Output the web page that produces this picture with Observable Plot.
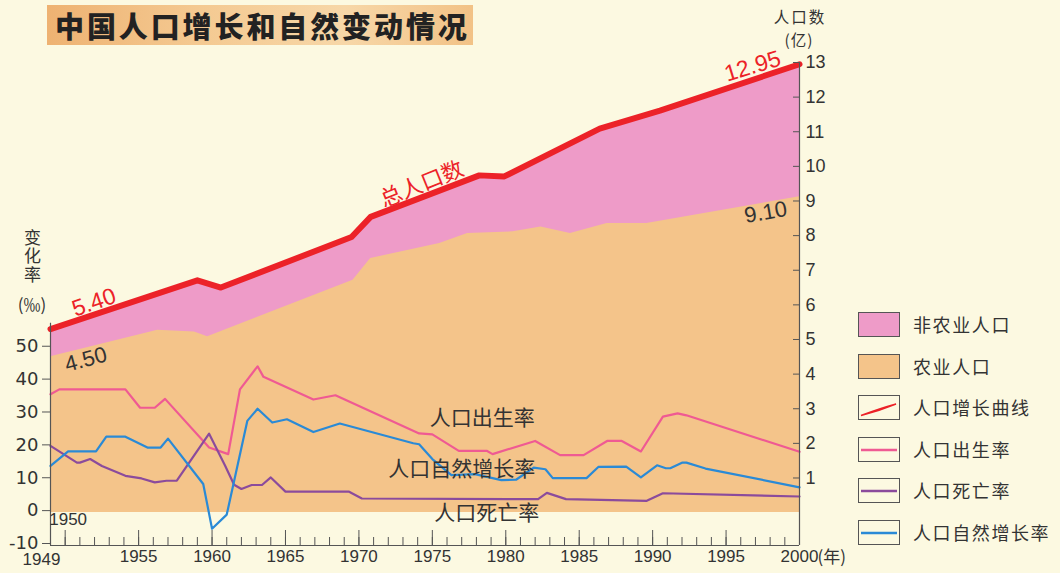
<!DOCTYPE html>
<html lang="zh">
<head>
<meta charset="utf-8">
<script src="https://cdn.jsdelivr.net/npm/d3@7"></script>
<script src="https://cdn.jsdelivr.net/npm/@observablehq/plot@0.6"></script>
<style>
html,body{margin:0;padding:0;background:#fcf9e1;}
#wrap{position:relative;width:1060px;height:573px;overflow:hidden;background:#fcf9e1;font-family:"Noto Sans CJK SC",sans-serif;color:#333;}
#chart{position:absolute;left:0;top:0;}
#title{position:absolute;left:47px;top:5px;width:426px;height:40px;box-sizing:border-box;padding-left:8px;
  background:linear-gradient(90deg,#eeb272 0%,#f4c991 35%,#f7d7a8 70%,#f2c286 100%);
  font-weight:900;font-size:29px;line-height:40px;letter-spacing:2.9px;color:#222;white-space:nowrap;}
.axt{position:absolute;font-size:17px;line-height:18px;color:#333;white-space:nowrap;text-align:center;}
.axr{position:absolute;font-size:15.5px;line-height:16px;color:#333;white-space:nowrap;text-align:center;}
#vt{position:absolute;left:22px;top:229px;writing-mode:vertical-rl;font-size:17px;letter-spacing:1.5px;line-height:20px;color:#333;}
.leg{position:absolute;left:858px;width:42px;height:25px;box-sizing:border-box;border:1px solid #555;}
.legt{position:absolute;left:913px;font-size:18px;line-height:25px;letter-spacing:1.6px;color:#333;white-space:nowrap;}
svg g[aria-label="rate-labels"] text{letter-spacing:2.4px;}
svg g[aria-label="num-labels"] text{letter-spacing:3px;}
svg g[aria-label="total-label"] text{letter-spacing:4px;}
</style>
</head>
<body>
<div id="wrap">
  <div id="chart"></div>
  <div id="title">中国人口增长和自然变动情况</div>
  <div id="vt">变化率</div>
  <div class="axt" style="left:12px;top:295px;width:40px;">(‰)</div>
  <div class="axr" style="left:770px;top:8px;width:60px;letter-spacing:2px;">人口数</div>
  <div class="axr" style="left:779px;top:31px;width:40px;letter-spacing:1px;">(亿)</div>
  <div id="legend"></div>
</div>
<script>
// ---------- data ----------
// total population (亿) : [year, value]
const totalPop = [[1949,5.30],[1959.0,6.71],[1960.6,6.50],[1969.5,7.96],[1970.8,8.54],[1972.1,8.75],
  [1978.2,9.74],[1979.9,9.71],[1986.4,11.09],[1990.5,11.61],[2000,12.95]];
// agricultural population (亿)
const agriPop = [[1949,4.50],[1951.7,4.78],[1956.3,5.27],[1958.8,5.22],[1959.7,5.08],[1969.6,6.71],
  [1970.8,7.34],[1975.5,7.77],[1977.4,8.06],[1980.5,8.11],[1982.4,8.25],[1984.4,8.06],[1986.9,8.35],
  [1989.6,8.35],[2000,9.12]];
// birth rate (‰)
const birthRate = [[1949,36.0],[1949.6,37.5],[1954.1,37.5],[1955.1,31.9],[1956.1,31.9],[1956.8,34.6],
  [1959.8,19.8],[1961.1,17.8],[1961.9,37.5],[1963.1,44.5],[1963.5,41.3],[1966.9,34.4],[1968.4,35.7],
  [1974.1,24.1],[1975.0,23.8],[1976.8,18.8],[1978.7,18.8],[1979.1,17.8],[1982.0,21.8],[1983.7,17.5],
  [1985.3,17.5],[1986.9,21.8],[1987.9,21.8],[1989.2,18.6],[1990.7,29.2],[1991.7,30.2],[1992.3,29.6],
  [2000,18.5]];
// death rate (‰)
const deathRate = [[1949,20.3],[1950.8,15.2],[1951.0,15.2],[1951.7,16.3],[1952.5,14.2],[1954.1,11.2],
  [1955.2,10.4],[1956.1,9.2],[1956.9,9.7],[1957.6,9.7],[1959.8,24.0],[1960.9,14.2],[1961.5,8.5],
  [1962.0,7.2],[1962.7,8.4],[1963.4,8.4],[1964.0,10.7],[1965.0,6.4],[1969.3,6.4],[1970.2,4.3],
  [1982.2,4.1],[1982.8,6.0],[1984.1,4.1],[1989.6,3.6],[1990.7,5.9],[2000,4.9]];
// natural growth rate (‰)
const growthRate = [[1949,14.2],[1950.2,18.6],[1952.1,18.6],[1952.8,23.1],[1954.1,23.1],[1955.6,19.8],
  [1956.5,19.8],[1957.0,22.5],[1959.4,8.7],[1960.0,-4.9],[1961.0,-0.6],[1962.4,27.9],[1963.1,31.6],
  [1964.1,27.4],[1965.1,28.4],[1966.9,24.5],[1968.7,27.1],[1973.7,21.1],[1974.1,20.8],[1975.0,16.3],
  [1976.3,11.4],[1977.9,11.7],[1979.7,9.9],[1980.7,10.0],[1981.9,13.7],[1982.7,13.2],[1983.2,10.5],
  [1985.5,10.5],[1986.3,13.9],[1988.2,14.0],[1989.2,10.7],[1990.3,14.4],[1990.9,13.5],[1991.2,13.5],
  [1992.0,15.2],[1992.3,15.2],[1993.6,13.4],[2000,7.7]];

// tick values
const rateTicks = [-10, 0, 10, 20, 30, 40, 50];
const popTicks = [1,2,3,4,5,6,7,8,9,10,11,12,13];
const xLabelYears = [1955,1960,1965,1970,1975,1980,1985,1990,1995,2000];
const xMajorYears = [1950,1955,1960,1965,1970,1975,1980,1985,1990,1995];
const xMinorYears = d3.range(1950, 2000);

// legend entries
const legendItems = [
  {name:"非农业人口", kind:"box", color:"#ee9bc8"},
  {name:"农业人口", kind:"box", color:"#f4c48a"},
  {name:"人口增长曲线", kind:"stroke", color:"#ec2228"},
  {name:"人口出生率", kind:"line", color:"#ef5a93"},
  {name:"人口死亡率", kind:"line", color:"#8b4b9c"},
  {name:"人口自然增长率", kind:"line", color:"#2a8ad6"}
];

// ---------- layout ----------
const rateToPop = 3.29 / 34.65;       // 1‰ on the left axis expressed in 亿 of the right axis
const yMin = -10 * rateToPop;
const leftAxisTop = 57.6;              // ‰, top of the left axis line

const numLabelsRed = [
  {t:"5.40", x:1951.96, y:6.07, r:-19},
  {t:"12.95", x:1996.8, y:12.89, r:-17}
];
const numLabelsDark = [
  {t:"4.50", x:1951.4, y:4.42, r:-15},
  {t:"9.10", x:1997.7, y:8.67, r:-10}
];
const rateLabels = [
  {t:"人口出生率", x:1978.4, r:28.6},
  {t:"人口自然增长率", x:1977.0, r:13.2},
  {t:"人口死亡率", x:1978.7, r:-0.3}
];

const X = d => d[0];
const chart = Plot.plot({
  width: 1060, height: 573,
  marginLeft: 50, marginRight: 261, marginTop: 62, marginBottom: 28,
  x: {domain: [1949, 2000], axis: null},
  y: {domain: [yMin, 13], axis: null},
  style: {background: "transparent", fontFamily: "'Liberation Sans', Arial, sans-serif", fontSize: "17px", color: "#333", overflow: "visible"},
  marks: [
    Plot.areaY(totalPop, {x: X, y1: 0, y2: d => d[1], fill: "#ee9bc8"}),
    Plot.areaY(agriPop, {x: X, y1: 0, y2: d => d[1], fill: "#f4c48a"}),
    Plot.line(birthRate, {x: X, y: d => d[1] * rateToPop, stroke: "#ef5a93", strokeWidth: 2.2}),
    Plot.line(deathRate, {x: X, y: d => d[1] * rateToPop, stroke: "#8b4b9c", strokeWidth: 2.2}),
    Plot.line(growthRate, {x: X, y: d => d[1] * rateToPop, stroke: "#2a8ad6", strokeWidth: 2.2}),
    Plot.line(totalPop, {x: X, y: d => d[1], stroke: "#ec2228", strokeWidth: 6, strokeLinejoin: "round"}),
    // axis lines
    Plot.ruleX([1949], {y1: yMin, y2: leftAxisTop * rateToPop, stroke: "#555", strokeWidth: 1.2}),
    Plot.ruleX([2000], {y1: yMin, y2: 13, stroke: "#555", strokeWidth: 1.2}),
    Plot.ruleY([yMin], {stroke: "#555", strokeWidth: 1.2}),
    // left axis (‰)
    Plot.axisY(rateTicks.map(r => r * rateToPop), {anchor: "left", tickSize: 8, tickPadding: 4, dy: -2, stroke: "#555",
      tickFormat: v => String(Math.round(v / rateToPop)),
      label: null, fontSize: 18, fontFamily: "'DejaVu Sans', sans-serif", fill: "#333"}),
    // right axis (亿) - inward ticks + labels
    Plot.axisY(popTicks, {anchor: "right", tickSize: 7, dx: -7, tickFormat: () => "", label: null, stroke: "#555"}),
    Plot.axisY(popTicks, {anchor: "right", tickSize: 0, tickPadding: 6, tickFormat: d => String(d), label: null, fontSize: 18, fill: "#333"}),
    // x axis - inward ticks
    Plot.axisX(xMinorYears, {anchor: "bottom", tickSize: 8, dy: -8, tickFormat: () => "", label: null, stroke: "#555"}),
    Plot.axisX(xMajorYears, {anchor: "bottom", tickSize: 15, dy: -15, tickFormat: () => "", label: null, stroke: "#555"}),
    Plot.axisX(xLabelYears, {anchor: "bottom", tickSize: 0, tickPadding: 4, tickFormat: d => String(d), label: null, fontSize: 17, fill: "#333"}),
    Plot.axisX([1949], {anchor: "bottom", tickSize: 0, tickPadding: 7, dx: -9, tickFormat: d => String(d), label: null, fontSize: 17, fill: "#333"}),
    Plot.text(["(年)"], {x: 2000, y: yMin, dx: 18, dy: 12, textAnchor: "start", fontSize: 17, fill: "#333", fontFamily: "'Noto Sans CJK SC', sans-serif"}),
    Plot.text(["1950"], {x: 1950.2, y: -2.1 * rateToPop, fontSize: 17, fill: "#333"}),
    // annotations
    Plot.text(numLabelsRed, {x: "x", y: "y", text: "t", rotate: "r", fill: "#ec2228", fontSize: 23, ariaLabel: "num-labels"}),
    Plot.text(numLabelsDark, {x: "x", y: "y", text: "t", rotate: "r", fill: "#333", fontSize: 22, ariaLabel: "num-labels"}),
    Plot.text(["总人口数"], {x: 1974.3, y: 9.48, rotate: -22, fill: "#ec2228", fontSize: 22, fontFamily: "'Noto Sans CJK SC', sans-serif", ariaLabel: "total-label"}),
    Plot.text(rateLabels, {x: "x", y: d => d.r * rateToPop, text: "t", fill: "#333", fontSize: 21, fontFamily: "'Noto Sans CJK SC', sans-serif", ariaLabel: "rate-labels"})
  ]
});
document.getElementById("chart").appendChild(chart);

// legend
const legend = document.getElementById("legend");
legendItems.forEach((it, i) => {
  const top = 312 + i * 41.6;
  const box = document.createElement("div");
  box.className = "leg";
  box.style.top = top + "px";
  if (it.kind === "box") box.style.background = it.color;
  else if (it.kind === "line") box.innerHTML = `<svg width="40" height="23" style="display:block"><line x1="2" x2="38" y1="12" y2="12" stroke="${it.color}" stroke-width="2.5"/></svg>`;
  else box.innerHTML = `<svg width="40" height="23" style="display:block"><path d="M2,19.5 C14,15 26,11 37,8 C26,12.5 14,16.5 2,19.5 Z" fill="${it.color}" stroke="${it.color}" stroke-width="1.4"/></svg>`;
  legend.appendChild(box);
  const t = document.createElement("div");
  t.className = "legt";
  t.style.top = top + "px";
  t.textContent = it.name;
  legend.appendChild(t);
});
</script>
</body>
</html>
